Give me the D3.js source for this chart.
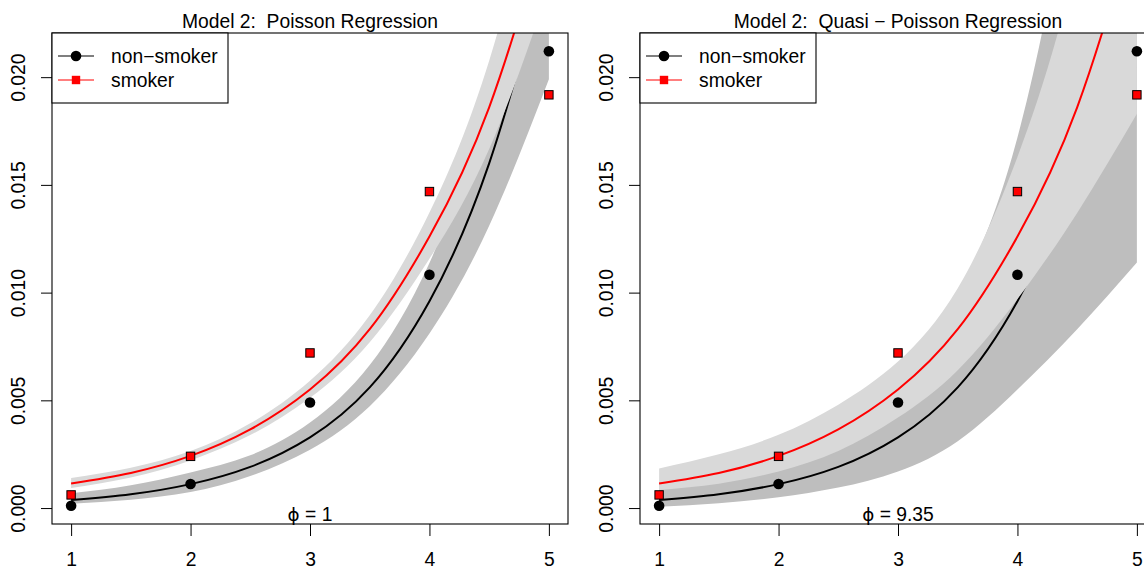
<!DOCTYPE html>
<html>
<head>
<meta charset="utf-8">
<script src="https://cdn.jsdelivr.net/npm/d3@7"></script>
<style>
  html, body { margin: 0; padding: 0; background: #fff; }
  svg text { font-family: "Liberation Sans", Arial, Helvetica, sans-serif; white-space: pre; }
</style>
</head>
<body>
<svg id="chart" width="1144" height="568"></svg>
<script>
// ---------- data ----------
const ageCats = [1, 2, 3, 4, 5];
const xTicks = [1, 2, 3, 4, 5];
const yTicks = [0, 0.005, 0.010, 0.015, 0.020];
const yTickLabels = ["0.000", "0.005", "0.010", "0.015", "0.020"];

// observed rates
const nonSmokerObs = [0.000106, 0.00112, 0.0049, 0.01083, 0.0212];
const smokerObs    = [0.00061, 0.0024, 0.0072, 0.01469, 0.01918];

// fitted curve grid
const fitX = [1, 1.5, 2, 2.5, 3, 3.5, 4, 4.5, 5];
const nonSmokerFit = [0.00037, 0.00064, 0.00111, 0.00191, 0.00328, 0.0056, 0.0096, 0.0160, 0.0255];
const smokerFit    = [0.00114, 0.00163, 0.00242, 0.00365, 0.0055, 0.0083, 0.0126, 0.0186, 0.0275];

// Poisson confidence bands
const poisNonLo = [0.000199, 0.000388, 0.000744, 0.00149, 0.00271, 0.00473, 0.0081, 0.0131, 0.0199];
const poisNonHi = [0.000688, 0.001055, 0.001656, 0.00245, 0.00397, 0.00664, 0.01138, 0.01954, 0.0327];
const poisSmkLo = [0.000933, 0.001417, 0.002212, 0.003386, 0.005118, 0.0077, 0.011573, 0.016662, 0.024148];
const poisSmkHi = [0.001392, 0.001875, 0.002648, 0.003934, 0.005911, 0.008947, 0.013718, 0.020763, 0.031317];

// Quasi-Poisson confidence bands
const quasiNonLo = [0.00006, 0.00022, 0.00050, 0.00095, 0.0017, 0.0031, 0.0055, 0.0083, 0.0114];
const quasiNonHi = [0.0012, 0.0018, 0.0027, 0.0042, 0.0065, 0.0100, 0.0172, 0.031, 0.050];
const quasiSmkLo = [0.00084, 0.00113, 0.0017, 0.00265, 0.0042, 0.0064, 0.0097, 0.0137, 0.0183];
const quasiSmkHi = [0.00184, 0.0025, 0.0034, 0.0048, 0.0068, 0.0102, 0.0163, 0.0256, 0.040];

const legendLabels = ["non\u2212smoker", "smoker"];
const panelTitles = ["Model 2:  Poisson Regression", "Model 2:  Quasi \u2212 Poisson Regression"];
const phiLabels = ["1", "9.35"];

// ---------- layout ----------
const svg = d3.select("#chart");
const FS = 19.3;
const plotW = 516, plotTop = 33, plotBottom = 524;
const panels = [
  { left: 52, title: panelTitles[0], phi: phiLabels[0], nonLo: poisNonLo, nonHi: poisNonHi, smkLo: poisSmkLo, smkHi: poisSmkHi },
  { left: 640, title: panelTitles[1], phi: phiLabels[1], nonLo: quasiNonLo, nonHi: quasiNonHi, smkLo: quasiSmkLo, smkHi: quasiSmkHi }
];
const lightGrey = "#d9d9d9", darkGrey = "#bebebe";

panels.forEach((p, pi) => {
  const x = d3.scaleLinear().domain([0.84, 5.16]).range([p.left, p.left + plotW]);
  const y = d3.scaleLinear().domain([-0.00074, 0.02205]).range([plotBottom, plotTop]);
  const g = svg.append("g");

  const clipId = "clip" + pi;
  svg.append("defs").append("clipPath").attr("id", clipId)
    .append("rect").attr("x", p.left).attr("y", plotTop).attr("width", plotW).attr("height", plotBottom - plotTop);

  const plot = g.append("g").attr("clip-path", `url(#${clipId})`);

  const area = (lo, hi) => d3.area()
    .x((d, i) => x(fitX[i]))
    .y0((d, i) => y(lo[i]))
    .y1((d, i) => y(hi[i]))
    .curve(d3.curveNatural)(fitX);
  const line = (vals) => d3.line()
    .x((d, i) => x(fitX[i]))
    .y((d, i) => y(vals[i]))
    .curve(d3.curveNatural)(fitX);

  plot.append("path").attr("d", area(p.nonLo, p.nonHi)).attr("fill", darkGrey);
  plot.append("path").attr("d", line(nonSmokerFit)).attr("fill", "none").attr("stroke", "#000").attr("stroke-width", 2);
  plot.append("path").attr("d", area(p.smkLo, p.smkHi)).attr("fill", lightGrey);
  plot.append("path").attr("d", line(smokerFit)).attr("fill", "none").attr("stroke", "#ff0000").attr("stroke-width", 2);

  // points
  plot.selectAll(".nonpt").data(ageCats).enter().append("circle")
    .attr("cx", d => x(d)).attr("cy", (d, i) => y(nonSmokerObs[i])).attr("r", 5.3).attr("fill", "#000");
  const sq = 8.4;
  plot.selectAll(".smkpt").data(ageCats).enter().append("rect")
    .attr("x", d => x(d) - sq / 2).attr("y", (d, i) => y(smokerObs[i]) - sq / 2)
    .attr("width", sq).attr("height", sq).attr("fill", "#ff0000").attr("stroke", "#000").attr("stroke-width", 1);

  // box
  g.append("rect").attr("x", p.left).attr("y", plotTop).attr("width", plotW).attr("height", plotBottom - plotTop)
    .attr("fill", "none").attr("stroke", "#000").attr("stroke-width", 1.1);

  // x axis
  const xAxis = d3.axisBottom(x).tickValues(xTicks).tickSize(12).tickPadding(16).tickFormat(d3.format("d"));
  const xa = g.append("g").attr("transform", `translate(0,${plotBottom})`).call(xAxis);
  xa.select(".domain").remove();
  xa.selectAll("line").attr("stroke", "#000");
  xa.selectAll("text").attr("font-size", FS).attr("font-family", "Liberation Sans, Arial, sans-serif").attr("fill", "#000").attr("dy", "0.71em");

  // y axis
  const yAxis = d3.axisLeft(y).tickValues(yTicks).tickSize(11).tickFormat((d, i) => yTickLabels[i]);
  const ya = g.append("g").attr("transform", `translate(${p.left},0)`).call(yAxis);
  ya.select(".domain").remove();
  ya.selectAll("line").attr("stroke", "#000");
  ya.selectAll("text")
    .attr("font-size", FS).attr("font-family", "Liberation Sans, Arial, sans-serif").attr("fill", "#000")
    .attr("x", null).attr("dy", null)
    .attr("text-anchor", "middle")
    .attr("transform", "translate(-27,0) rotate(-90)");

  // title
  g.append("text").attr("x", p.left + plotW / 2).attr("y", 28).attr("text-anchor", "middle")
    .attr("font-size", FS).attr("fill", "#000").text(p.title);

  // phi label
  const phiText = g.append("text").attr("x", x(3)).attr("y", 521).attr("text-anchor", "middle")
    .attr("font-size", FS).attr("fill", "#000");
  phiText.append("tspan").attr("font-family", "DejaVu Sans, sans-serif").attr("font-size", FS * 0.95).text("\u03D5");
  phiText.append("tspan").text(" = " + p.phi);

  // legend
  const lg = g.append("g");
  lg.append("rect").attr("x", p.left).attr("y", plotTop).attr("width", 176).attr("height", 70)
    .attr("fill", "#fff").attr("stroke", "#000").attr("stroke-width", 1.1);
  const ly = [56, 80];
  legendLabels.forEach((lab, i) => {
    const col = i === 0 ? "#000" : "#ff0000";
    lg.append("line").attr("x1", p.left + 6).attr("x2", p.left + 42).attr("y1", ly[i]).attr("y2", ly[i])
      .attr("stroke", col).attr("stroke-width", 1.2);
    if (i === 0) {
      lg.append("circle").attr("cx", p.left + 24).attr("cy", ly[i]).attr("r", 5.3).attr("fill", "#000");
    } else {
      lg.append("rect").attr("x", p.left + 24 - 4.2).attr("y", ly[i] - 4.2).attr("width", 8.4).attr("height", 8.4).attr("fill", "#ff0000");
    }
    lg.append("text").attr("x", p.left + 59).attr("y", ly[i]).attr("dy", "0.35em")
      .attr("font-size", FS).attr("fill", "#000").text(lab);
  });
});
</script>
</body>
</html>
